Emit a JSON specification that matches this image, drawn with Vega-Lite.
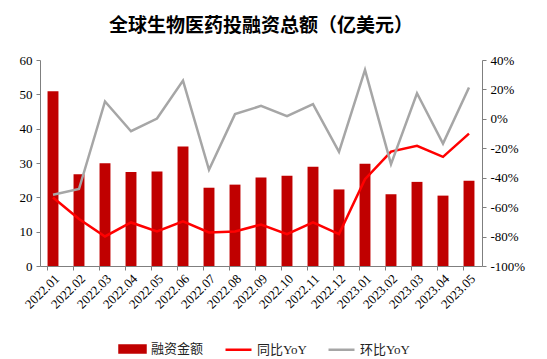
{
  "$schema": "https://vega.github.io/schema/vega-lite/v6.json",
  "width": 442,
  "height": 206,
  "autosize": {"type": "none"},
  "padding": {"left": 40, "top": 60, "right": 65, "bottom": 93},
  "background": "white",
  "title": {
    "text": "全球生物医药投融资总额（亿美元）",
    "font": "Noto Sans CJK SC",
    "fontSize": 19,
    "fontWeight": "bold",
    "color": "#000000",
    "anchor": "middle",
    "offset": 18
  },
  "config": {
    "view": {"stroke": null},
    "axis": {
      "labelFont": "Liberation Serif",
      "labelFontSize": 13,
      "labelColor": "#000000",
      "domainColor": "#7f7f7f",
      "tickColor": "#7f7f7f",
      "grid": false,
      "title": null
    },
    "legend": {"title": null}
  },
  "data": {
    "values": [
      {"month": "2022.01", "amount": 50.9, "同比YoY": -53.4, "环比YoY": -51.6},
      {"month": "2022.02", "amount": 26.7, "同比YoY": -68.1, "环比YoY": -47.7},
      {"month": "2022.03", "amount": 29.9, "同比YoY": -79.9, "环比YoY": 11.8},
      {"month": "2022.04", "amount": 27.4, "同比YoY": -70.4, "环比YoY": -8.4},
      {"month": "2022.05", "amount": 27.5, "同比YoY": -76.5, "环比YoY": 0.2},
      {"month": "2022.06", "amount": 34.8, "同比YoY": -69.7, "环比YoY": 26.0},
      {"month": "2022.07", "amount": 22.8, "同比YoY": -77.2, "环比YoY": -34.6},
      {"month": "2022.08", "amount": 23.7, "同比YoY": -76.5, "环比YoY": 3.2},
      {"month": "2022.09", "amount": 25.8, "同比YoY": -71.8, "环比YoY": 8.8},
      {"month": "2022.10", "amount": 26.3, "同比YoY": -78.3, "环比YoY": 1.8},
      {"month": "2022.11", "amount": 28.9, "同比YoY": -70.4, "环比YoY": 10.0},
      {"month": "2022.12", "amount": 22.3, "同比YoY": -78.3, "环比YoY": -22.4},
      {"month": "2023.01", "amount": 29.8, "同比YoY": -41.0, "环比YoY": 33.3},
      {"month": "2023.02", "amount": 20.9, "同比YoY": -22.2, "环比YoY": -30.8},
      {"month": "2023.03", "amount": 24.5, "同比YoY": -18.3, "环比YoY": 17.4},
      {"month": "2023.04", "amount": 20.5, "同比YoY": -25.8, "环比YoY": -16.8},
      {"month": "2023.05", "amount": 24.8, "同比YoY": -10.0, "环比YoY": 21.3}
    ]
  },
  "encoding": {
    "x": {
      "field": "month",
      "type": "ordinal",
      "sort": null,
      "scale": {"paddingInner": 0.58, "paddingOuter": 0.29},
      "axis": {
        "labelAngle": -45,
        "labelAlign": "right",
        "labelBaseline": "top",
        "labelPadding": 2,
        "bandPosition": 0,
        "tickSize": 4,
        "labelOffset": 0
      }
    }
  },
  "layer": [
    {
      "mark": {"type": "bar"},
      "encoding": {
        "y": {
          "field": "amount",
          "type": "quantitative",
          "scale": {"domain": [0, 60], "nice": false},
          "axis": {"values": [0, 10, 20, 30, 40, 50, 60], "tickSize": 4, "labelPadding": 4}
        },
        "color": {
          "datum": "融资金额",
          "type": "nominal",
          "title": null,
          "scale": {
            "domain": ["融资金额", "同比YoY", "环比YoY"],
            "range": ["#C00000", "#FF0000", "#A6A6A6"]
          },
          "legend": {
            "orient": "none",
            "legendX": 78,
            "legendY": 274,
            "direction": "horizontal",
            "title": null,
            "labelFont": "Liberation Serif, Noto Sans CJK SC",
            "labelFontSize": 13,
            "labelColor": "#222222",
            "symbolSize": 676,
            "labelOffset": 4,
            "columnPadding": 16,
            "encode": {
              "symbols": {
                "update": {
                  "shape": {"signal": "datum.value === '融资金额' ? 'M-1,-0.27H1V0.27H-1Z' : 'M-1,0H1'"},
                  "fill": {"signal": "datum.value === '融资金额' ? '#C00000' : 'transparent'"},
                  "stroke": {"signal": "datum.value === '融资金额' ? 'transparent' : (datum.value === '同比YoY' ? '#FF0000' : '#A6A6A6')"},
                  "strokeWidth": {"value": 2.5},
                  "opacity": {"value": 1}
                }
              }
            }
          }
        }
      }
    },
    {
      "transform": [{"fold": ["同比YoY", "环比YoY"], "as": ["series", "pct"]}],
      "mark": {"type": "line", "strokeWidth": 2.5},
      "encoding": {
        "y": {
          "field": "pct",
          "type": "quantitative",
          "scale": {"domain": [-100, 40], "nice": false},
          "axis": {
            "orient": "right",
            "values": [-100, -80, -60, -40, -20, 0, 20, 40],
            "labelExpr": "datum.value + '%'",
            "tickSize": 4,
            "labelPadding": 4
          }
        },
        "color": {"field": "series", "type": "nominal", "title": null}
      }
    }
  ],
  "resolve": {"scale": {"y": "independent"}}
}
